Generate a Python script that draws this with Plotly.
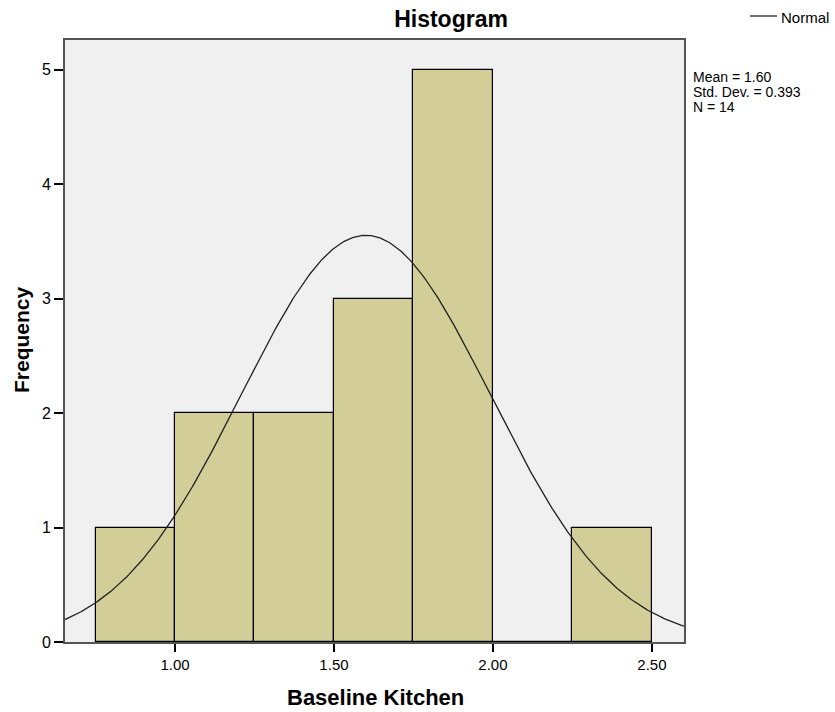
import numpy as np
import plotly.graph_objects as go

# Histogram bins (left edges) and counts
bin_starts = [0.75, 1.00, 1.25, 1.50, 1.75, 2.00, 2.25]
counts = [1, 2, 2, 3, 5, 0, 1]
bin_width = 0.25

# Summary statistics shown beside the plot
mean_val = 1.60
std_val = 0.393
n_obs = 14

x_ticks = [1.00, 1.50, 2.00, 2.50]
y_ticks = [0, 1, 2, 3, 4, 5]

x_range = [0.654, 2.601]
y_range = [0, 5.26]

FONT = "Arial, 'Liberation Sans', sans-serif"
BAR_FILL = "#D3CE98"
PLOT_BG = "#F0F0F0"
FRAME = "#555555"

# Plot area in pixels (left, top, width, height)
PL, PT, PW, PH = 65, 40, 619, 602


def px_x(X):
    return (X - PL) / PW


def px_y(Y):
    return (PT + PH - Y) / PH


centers = [b + bin_width / 2 for b in bin_starts]

fig = go.Figure()

fig.add_trace(go.Bar(
    x=centers,
    y=counts,
    width=[bin_width] * len(counts),
    marker=dict(color=BAR_FILL, line=dict(color="#000000", width=1.2)),
    showlegend=False,
    hoverinfo="x+y",
))

# Normal curve scaled to the histogram (N * bin width * pdf)
xs = np.linspace(x_range[0], x_range[1], 400)
ys = n_obs * bin_width / (std_val * np.sqrt(2 * np.pi)) * np.exp(-0.5 * ((xs - mean_val) / std_val) ** 2)
fig.add_trace(go.Scatter(
    x=xs, y=ys, mode="lines",
    line=dict(color="#222222", width=1.3),
    name="Normal", showlegend=False,
))

fig.update_layout(
    width=835, height=712,
    margin=dict(l=PL, r=835 - PL - PW, t=PT, b=712 - PT - PH),
    paper_bgcolor="white",
    plot_bgcolor=PLOT_BG,
    bargap=0,
    font=dict(family=FONT, color="#000000", size=15),
    title=dict(
        text="<b>Histogram</b>",
        x=451 / 835, xanchor="center", xref="container",
        y=1 - 19 / 712, yanchor="middle", yref="container",
        font=dict(size=23, family=FONT, color="#000000"),
    ),
    xaxis=dict(
        range=x_range,
        tickvals=x_ticks,
        ticktext=[f"{v:.2f}" for v in x_ticks],
        ticks="outside", ticklen=8, tickwidth=1.5, tickcolor="#000000",
        showgrid=False, zeroline=False,
        showline=True, linecolor=FRAME, linewidth=2, mirror=True,
        tickfont=dict(size=15),
    ),
    yaxis=dict(
        range=y_range,
        tickvals=y_ticks,
        ticks="outside", ticklen=9, tickwidth=1.5, tickcolor="#000000",
        showgrid=False, zeroline=False,
        showline=True, linecolor=FRAME, linewidth=2, mirror=True,
        tickfont=dict(size=16),
    ),
)

# Axis titles
fig.add_annotation(text="<b>Baseline Kitchen</b>", xref="paper", yref="paper",
                   x=px_x(375), y=px_y(697), xanchor="center", yanchor="middle",
                   showarrow=False, font=dict(size=22, family=FONT))
fig.add_annotation(text="<b>Frequency</b>", xref="paper", yref="paper",
                   x=px_x(21), y=px_y(339), xanchor="center", yanchor="middle",
                   textangle=-90, showarrow=False, font=dict(size=21, family=FONT))

# Legend entry for the normal curve
fig.add_shape(type="line", xref="paper", yref="paper",
              x0=px_x(750), x1=px_x(777), y0=px_y(16), y1=px_y(16),
              line=dict(color="#222222", width=1.3))
fig.add_annotation(text="Normal", xref="paper", yref="paper",
                   x=px_x(779), y=px_y(17), xanchor="left", yanchor="middle",
                   showarrow=False, font=dict(size=15, family=FONT))

# Summary statistics text, one line per annotation for tight spacing
stats_lines = [f"Mean = {mean_val:.2f}", f"Std. Dev. = {std_val:.3f}", f"N = {n_obs}"]
for i, line in enumerate(stats_lines):
    fig.add_annotation(text=line, xref="paper", yref="paper",
                       x=px_x(691), y=px_y(77 + 15 * i), xanchor="left", yanchor="middle",
                       align="left", showarrow=False,
                       font=dict(size=14, family=FONT))

fig.write_html("out.html")
